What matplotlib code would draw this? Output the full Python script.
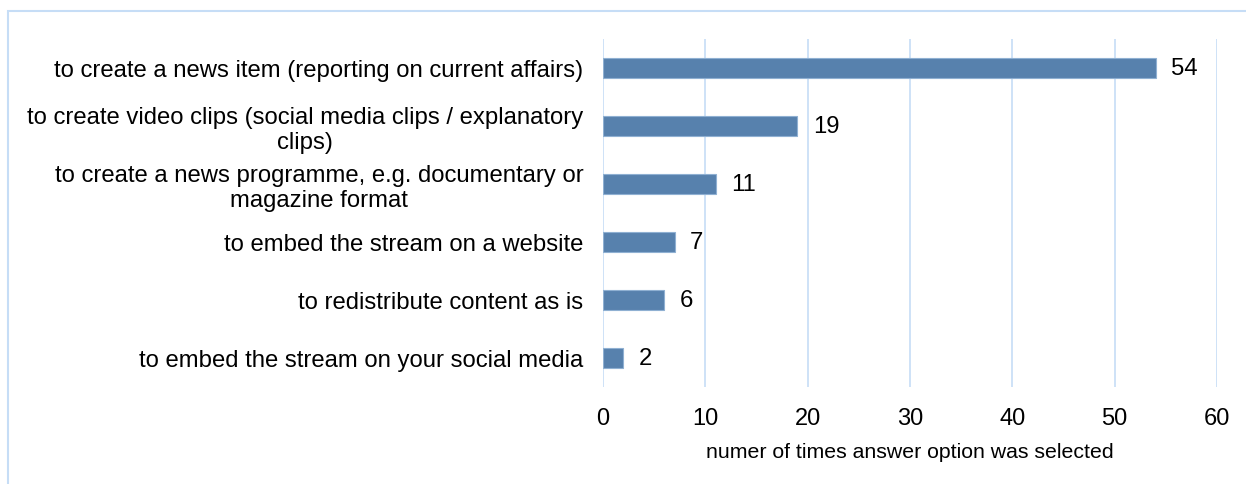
import matplotlib.pyplot as plt
from matplotlib.patches import Rectangle

plt.rcParams['font.family'] = ['Liberation Sans', 'DejaVu Sans']

categories = [
    "to create a news item (reporting on current affairs)",
    "to create video clips (social media clips / explanatory\nclips)",
    "to create a news programme, e.g. documentary or\nmagazine format",
    "to embed the stream on a website",
    "to redistribute content as is",
    "to embed the stream on your social media",
]
counts = [54, 19, 11, 7, 6, 2]
xticks = [0, 10, 20, 30, 40, 50, 60]

bar_color = '#5781AD'
grid_color = '#C6DDF6'

fig = plt.figure(figsize=(12.46, 4.85), dpi=100)
W, H = 1246, 485
ax = fig.add_axes([603 / W, 1 - 388 / H, (1217 - 603) / W, (388 - 40) / H])

# outer chart frame, runs off the right and bottom edges
fig.patches.append(Rectangle((8 / W, -0.1), 2, 1 - 12 / H + 0.1, transform=fig.transFigure,
                             fill=False, edgecolor=grid_color, linewidth=1.5))

y = list(range(len(categories)))
ax.barh(y, counts, height=0.36, color=bar_color, edgecolor='#8FB0D2', linewidth=0.8, zorder=3)
for yi, v in zip(y, counts):
    ax.annotate(str(v), (v, yi), xytext=(11, 0), textcoords='offset points',
                va='center', ha='left', fontsize=17.2)

ax.set_ylim(len(categories) - 0.5, -0.5)
ax.set_xlim(0, 60)
ax.set_xticks(xticks)
ax.set_yticks(y)
ax.set_yticklabels(categories, fontsize=17.2, multialignment='center', linespacing=1.12)
ax.tick_params(axis='x', labelsize=17, length=0, pad=14.5)
ax.tick_params(axis='y', length=0, pad=14)
ax.xaxis.grid(True, color=grid_color, linewidth=1.2, zorder=0)
for s in ax.spines.values():
    s.set_visible(False)
ax.set_xlabel('numer of times answer option was selected', fontsize=15.3, labelpad=9)

plt.savefig('out.png', dpi=100)
